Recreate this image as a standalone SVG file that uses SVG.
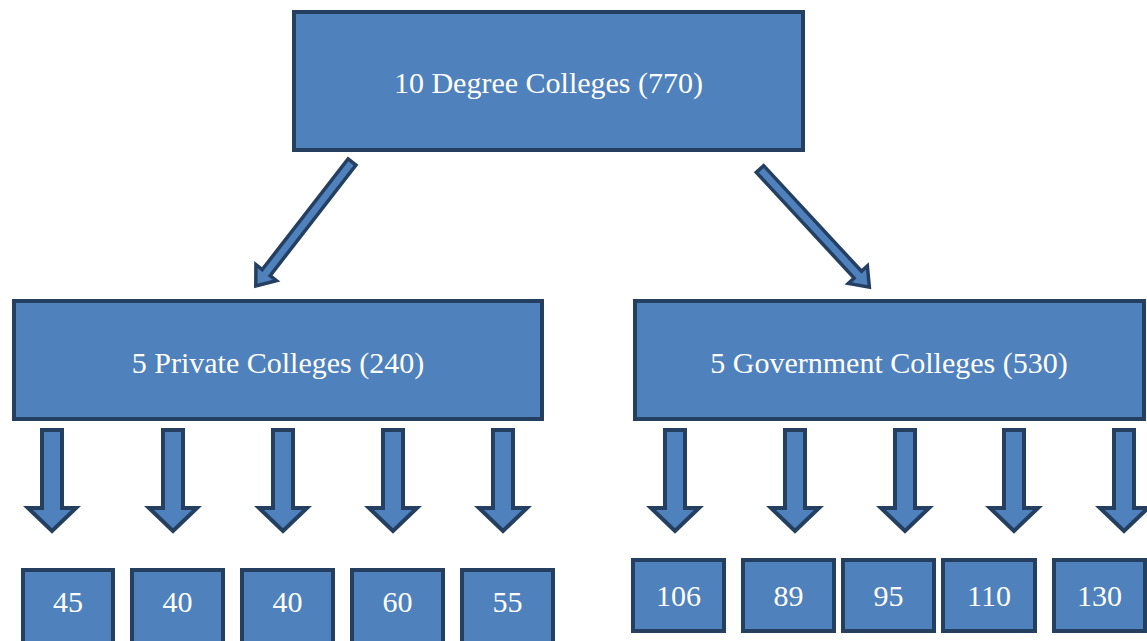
<svg xmlns="http://www.w3.org/2000/svg" xmlns:xlink="http://www.w3.org/1999/xlink" width="1147" height="641" viewBox="0 0 1147 641">
<style>
.box{fill:#4f81bd;stroke:#243f60;stroke-width:4}
.arr{fill:#4f81bd;stroke:#243f60;stroke-width:4;stroke-linejoin:miter}
.darr{fill:#4f81bd;stroke:#243f60;stroke-width:3.5;stroke-linejoin:miter}
.t{font-family:"Liberation Serif","Times New Roman",serif;font-size:30px;fill:#ffffff;text-anchor:middle}
</style>
<defs>
<path id="down" class="arr" d="M-10,430 L10,430 L10,508 L24,508 L0,531 L-24,508 L-10,508 Z"/>
</defs>
<rect width="1147" height="641" fill="#ffffff"/>
<g id="connectors">
<path class="darr" transform="translate(352,162) rotate(37.8)" d="M-5,0 L5,0 L5,140 L13,140 L0,157 L-13,140 L-5,140 Z"/>
<path class="darr" transform="translate(760,169) rotate(-42.8)" d="M-5,0 L5,0 L5,144 L13,144 L0,161 L-13,144 L-5,144 Z"/>
<use xlink:href="#down" x="52"/>
<use xlink:href="#down" x="173"/>
<use xlink:href="#down" x="283"/>
<use xlink:href="#down" x="393"/>
<use xlink:href="#down" x="503"/>
<use xlink:href="#down" x="675"/>
<use xlink:href="#down" x="795"/>
<use xlink:href="#down" x="905"/>
<use xlink:href="#down" x="1014"/>
<use xlink:href="#down" x="1124"/>
</g>
<g id="top"><rect class="box" x="294" y="12" width="509" height="138"/><text class="t" x="548.5" y="93">10 Degree Colleges (770)</text></g>
<g id="private"><rect class="box" x="14" y="301" width="528" height="118"/><text class="t" x="278" y="373">5 Private Colleges (240)</text></g>
<g id="government"><rect class="box" x="635" y="301" width="509" height="118"/><text class="t" x="889" y="373">5 Government Colleges (530)</text></g>
<g id="p1"><rect class="box" x="23" y="570" width="90" height="73"/><text class="t" x="68" y="612">45</text></g>
<g id="p2"><rect class="box" x="132" y="570" width="91" height="73"/><text class="t" x="177.5" y="612">40</text></g>
<g id="p3"><rect class="box" x="242" y="570" width="91" height="73"/><text class="t" x="287.5" y="612">40</text></g>
<g id="p4"><rect class="box" x="352" y="570" width="91" height="73"/><text class="t" x="397.5" y="612">60</text></g>
<g id="p5"><rect class="box" x="462" y="570" width="91" height="73"/><text class="t" x="507.5" y="612">55</text></g>
<g id="g1"><rect class="box" x="633" y="560" width="91" height="71"/><text class="t" x="678.5" y="606">106</text></g>
<g id="g2"><rect class="box" x="743" y="560" width="91" height="71"/><text class="t" x="788.5" y="606">89</text></g>
<g id="g3"><rect class="box" x="843" y="560" width="91" height="71"/><text class="t" x="888.5" y="606">95</text></g>
<g id="g4"><rect class="box" x="943" y="560" width="92" height="71"/><text class="t" x="989" y="606">110</text></g>
<g id="g5"><rect class="box" x="1054" y="560" width="91" height="71"/><text class="t" x="1099.5" y="606">130</text></g>
</svg>
